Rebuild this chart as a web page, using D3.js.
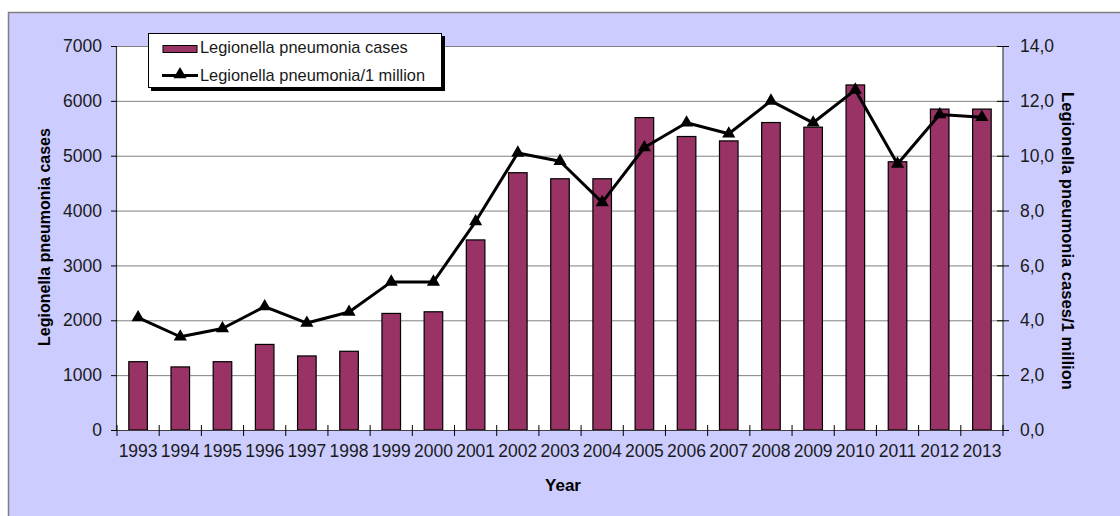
<!DOCTYPE html>
<html><head><meta charset="utf-8">
<script src="https://cdn.jsdelivr.net/npm/d3@7"></script>
<style>
html,body{margin:0;padding:0;background:#fff;}
svg{display:block;font-family:"Liberation Sans",Arial,sans-serif;}
</style></head>
<body>
<svg id="chart" width="1120" height="516"></svg>
<script>
const years = ["1993","1994","1995","1996","1997","1998","1999","2000","2001","2002","2003","2004","2005","2006","2007","2008","2009","2010","2011","2012","2013"];
const cases = [1245,1150,1245,1560,1350,1435,2125,2155,3465,4690,4580,4580,5695,5350,5270,5605,5520,6290,4890,5850,5850];
const ratePerMillion = [4.1,3.4,3.7,4.5,3.9,4.3,5.4,5.4,7.6,10.1,9.8,8.3,10.3,11.2,10.8,12.0,11.2,12.4,9.7,11.5,11.4];
const leftTicks = [0,1000,2000,3000,4000,5000,6000,7000];
const rightTicks = [0,2,4,6,8,10,12,14];
const seriesNames = ["Legionella pneumonia cases","Legionella pneumonia/1 million"];
const leftTitle = "Legionella pneumonia cases";
const rightTitle = "Legionella pneumonia cases/1 million";
const xTitle = "Year";

const svg = d3.select("#chart");
const L = 117, R = 1003, T = 46, B = 430;
const FS = 17.5;

// outer chart area
svg.append("rect").attr("x",8.5).attr("y",12.5).attr("width",1130).attr("height",520)
  .attr("fill","#ccccff").attr("stroke","#808080").attr("stroke-width",1.5);

// plot area
svg.append("rect").attr("x",L).attr("y",T).attr("width",R-L).attr("height",B-T).attr("fill","#fff");

const x = d3.scaleBand().domain(years).range([L,R]).paddingInner(0.56).paddingOuter(0.28);
const xb = d3.scaleBand().domain(years).range([L,R]);
const yL = d3.scaleLinear().domain([0,7000]).range([B,T]);
const yR = d3.scaleLinear().domain([0,14]).range([B,T]);

// gridlines
svg.append("g").selectAll("line").data(leftTicks.filter(d=>d>0)).join("line")
  .attr("x1",L).attr("x2",R).attr("y1",d=>yL(d)+0.5).attr("y2",d=>yL(d)+0.5)
  .attr("stroke","#808080").attr("stroke-width",1);

// bars
svg.append("g").selectAll("rect").data(years).join("rect")
  .attr("x",(d)=>x(d)).attr("width",x.bandwidth())
  .attr("y",(d,i)=>yL(cases[i])).attr("height",(d,i)=>B-yL(cases[i]))
  .attr("fill","#993366").attr("stroke","#000").attr("stroke-width",1.2);

// line
const pts = years.map((d,i)=>[xb(d)+xb.bandwidth()/2, yR(ratePerMillion[i])]);
svg.append("path").attr("d",d3.line()(pts)).attr("fill","none")
  .attr("stroke","#000").attr("stroke-width",3).attr("stroke-linejoin","round");
const tri = d3.symbol().type(d3.symbolTriangle).size(75);
svg.append("g").selectAll("path").data(pts).join("path")
  .attr("transform",d=>`translate(${d[0]},${d[1]})`).attr("d",tri()).attr("fill","#000");

// left axis
const axL = svg.append("g").attr("transform",`translate(${L},0)`)
  .call(d3.axisLeft(yL).tickValues(leftTicks).tickSize(6).tickPadding(9).tickFormat(d3.format("d")));
// right axis
const axR = svg.append("g").attr("transform",`translate(${R},0)`)
  .call(d3.axisRight(yR).tickValues(rightTicks).tickSize(6).tickPadding(11).tickFormat(d=>d.toFixed(1).replace(".",",")));
axR.selectAll(".tick line").attr("x1",-6);
// bottom axis
const axB = svg.append("g").attr("transform",`translate(0,${B})`)
  .call(d3.axisBottom(xb).tickSize(0).tickPadding(15));
// tick marks between categories
const boundaries = d3.range(years.length+1).map(i=>L + i*xb.step());
svg.append("g").selectAll("line").data(boundaries).join("line")
  .attr("x1",d=>d).attr("x2",d=>d).attr("y1",B-5).attr("y2",B+6)
  .attr("stroke","#000").attr("stroke-width",1);

[axL,axR,axB].forEach(a=>{
  a.selectAll(".domain").attr("stroke","#000").attr("stroke-width",1.2);
  a.selectAll(".tick line").attr("stroke","#000");
  a.selectAll(".tick text").attr("font-size",FS).attr("fill","#1a1a1a")
    .attr("font-family","'Liberation Sans',Arial,sans-serif");
});
axL.select(".domain").attr("d",`M-0.5,${T}V${B}`).attr("stroke","#404040");
axR.select(".domain").attr("d",`M0,${T}V${B}`).attr("stroke","#404040");
axB.select(".domain").attr("d",`M${L},0.5H${R}`).attr("stroke","#404040");

// axis titles
svg.append("text").attr("transform",`translate(50,${(T+B)/2-1}) rotate(-90)`)
  .attr("text-anchor","middle").attr("font-weight","bold").attr("font-size",16).text(leftTitle);
svg.append("text").attr("transform",`translate(1062,${(T+B)/2+3}) rotate(90)`)
  .attr("text-anchor","middle").attr("font-weight","bold").attr("font-size",16.6).text(rightTitle);
svg.append("text").attr("x",563).attr("y",491).attr("text-anchor","middle")
  .attr("font-weight","bold").attr("font-size",17).text(xTitle);

// legend
const lg = svg.append("g");
lg.append("rect").attr("x",151).attr("y",36).attr("width",294).attr("height",55).attr("fill","#000");
lg.append("rect").attr("x",148.5).attr("y",33.5).attr("width",293).attr("height",54)
  .attr("fill","#fff").attr("stroke","#000").attr("stroke-width",1);
lg.append("rect").attr("x",163).attr("y",45.5).attr("width",34).attr("height",7)
  .attr("fill","#993366").attr("stroke","#000").attr("stroke-width",1);
lg.append("line").attr("x1",162).attr("x2",198).attr("y1",75.5).attr("y2",75.5)
  .attr("stroke","#000").attr("stroke-width",3);
lg.append("path").attr("transform","translate(180,74.5)").attr("d",tri()).attr("fill","#000");
lg.append("text").attr("x",200).attr("y",53).attr("font-size",16.4).attr("fill","#1a1a1a").text(seriesNames[0]);
lg.append("text").attr("x",200).attr("y",80.5).attr("font-size",16.4).attr("fill","#1a1a1a").text(seriesNames[1]);
</script>
</body></html>
